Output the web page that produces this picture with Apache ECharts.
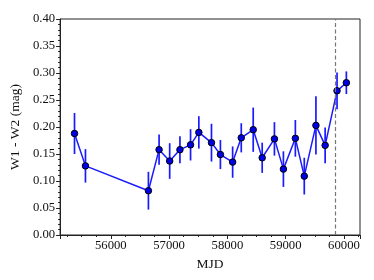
<!DOCTYPE html>
<html>
<head>
<meta charset="utf-8">
<script src="https://cdn.jsdelivr.net/npm/echarts@6/dist/echarts.min.js"></script>
<style>
html,body{margin:0;padding:0;background:#fff;}
#c{width:374px;height:280px;}
</style>
</head>
<body>
<div id="c"></div>
<script>
const mjd = [55377, 55565, 56645, 56828, 57010, 57186, 57368, 57510, 57727, 57880, 58090, 58238, 58443, 58597, 58807, 58961, 59166, 59319, 59519, 59677, 59881, 60041];
const w1w2 = [0.188, 0.128, 0.082, 0.158, 0.137, 0.158, 0.167, 0.190, 0.171, 0.149, 0.135, 0.180, 0.195, 0.143, 0.178, 0.122, 0.179, 0.109, 0.203, 0.166, 0.267, 0.282];
const w1w2Err = [0.038, 0.031, 0.035, 0.028, 0.033, 0.025, 0.029, 0.030, 0.035, 0.027, 0.029, 0.027, 0.041, 0.028, 0.031, 0.033, 0.034, 0.034, 0.054, 0.033, 0.034, 0.021];
const markerLine = 59850;
const xRange = [55130, 60275];
const yTicks = [0, 0.05, 0.10, 0.15, 0.20, 0.25, 0.30, 0.35, 0.40];

const pts = mjd.map((m, i) => [m, w1w2[i]]);
const errData = mjd.map((m, i) => [m, w1w2[i], w1w2Err[i]]);
const font = '"Liberation Serif", "DejaVu Serif", serif';
const axisCol = '#222';

const chart = echarts.init(document.getElementById('c'), null, {renderer: 'canvas'});
chart.setOption({
  animation: false,
  backgroundColor: '#fff',
  grid: {left: 58.5, right: 14, top: 19, bottom: 45, show: true, borderColor: axisCol, borderWidth: 1, backgroundColor: 'transparent'},
  xAxis: {
    type: 'value', min: xRange[0], max: xRange[1], splitNumber: 5,
    name: 'MJD', nameLocation: 'middle', nameGap: 22,
    nameTextStyle: {fontFamily: font, fontSize: 13.5, color: '#111'},
    axisLine: {lineStyle: {color: axisCol, width: 1}},
    axisTick: {show: true, length: 4, lineStyle: {color: axisCol}},
    minorTick: {show: true, splitNumber: 4, length: 2, lineStyle: {color: axisCol}},
    axisLabel: {fontFamily: font, fontSize: 12.7, color: '#111', margin: 4, showMinLabel: false, showMaxLabel: false,
      formatter: v => String(Math.round(v))},
    splitLine: {show: false}
  },
  yAxis: {
    type: 'value', min: yTicks[0], max: yTicks[yTicks.length - 1], interval: 0.05,
    name: 'W1 - W2 (mag)', nameLocation: 'middle', nameGap: 35, nameRotate: 90,
    nameTextStyle: {fontFamily: font, fontSize: 13.5, color: '#111'},
    axisLine: {lineStyle: {color: axisCol, width: 1}},
    axisTick: {show: true, length: 4, lineStyle: {color: axisCol}},
    minorTick: {show: true, splitNumber: 5, length: 2, lineStyle: {color: axisCol}},
    axisLabel: {fontFamily: font, fontSize: 12.7, color: '#111', margin: 5, formatter: v => v.toFixed(2)},
    splitLine: {show: false}
  },
  series: [
    {
      type: 'custom',
      data: errData,
      z: 2,
      renderItem: function (params, api) {
        const x = api.value(0), y = api.value(1), e = api.value(2);
        const p1 = api.coord([x, y - e]);
        const p2 = api.coord([x, y + e]);
        return {type: 'line', shape: {x1: p1[0], y1: p1[1], x2: p2[0], y2: p2[1]},
          style: {stroke: '#1a1aff', lineWidth: 1.7}};
      }
    },
    {
      type: 'line',
      data: pts,
      z: 3,
      symbol: 'circle', symbolSize: 6.5,
      itemStyle: {color: '#0000e6', borderColor: '#000', borderWidth: 1},
      lineStyle: {color: '#1a1aff', width: 1.5},
      markLine: {
        silent: true, symbol: ['none', 'none'],
        label: {show: false},
        lineStyle: {color: '#777', type: [4, 2.5], width: 1.2},
        data: [{xAxis: markerLine}]
      }
    }
  ]
});
</script>
</body>
</html>
